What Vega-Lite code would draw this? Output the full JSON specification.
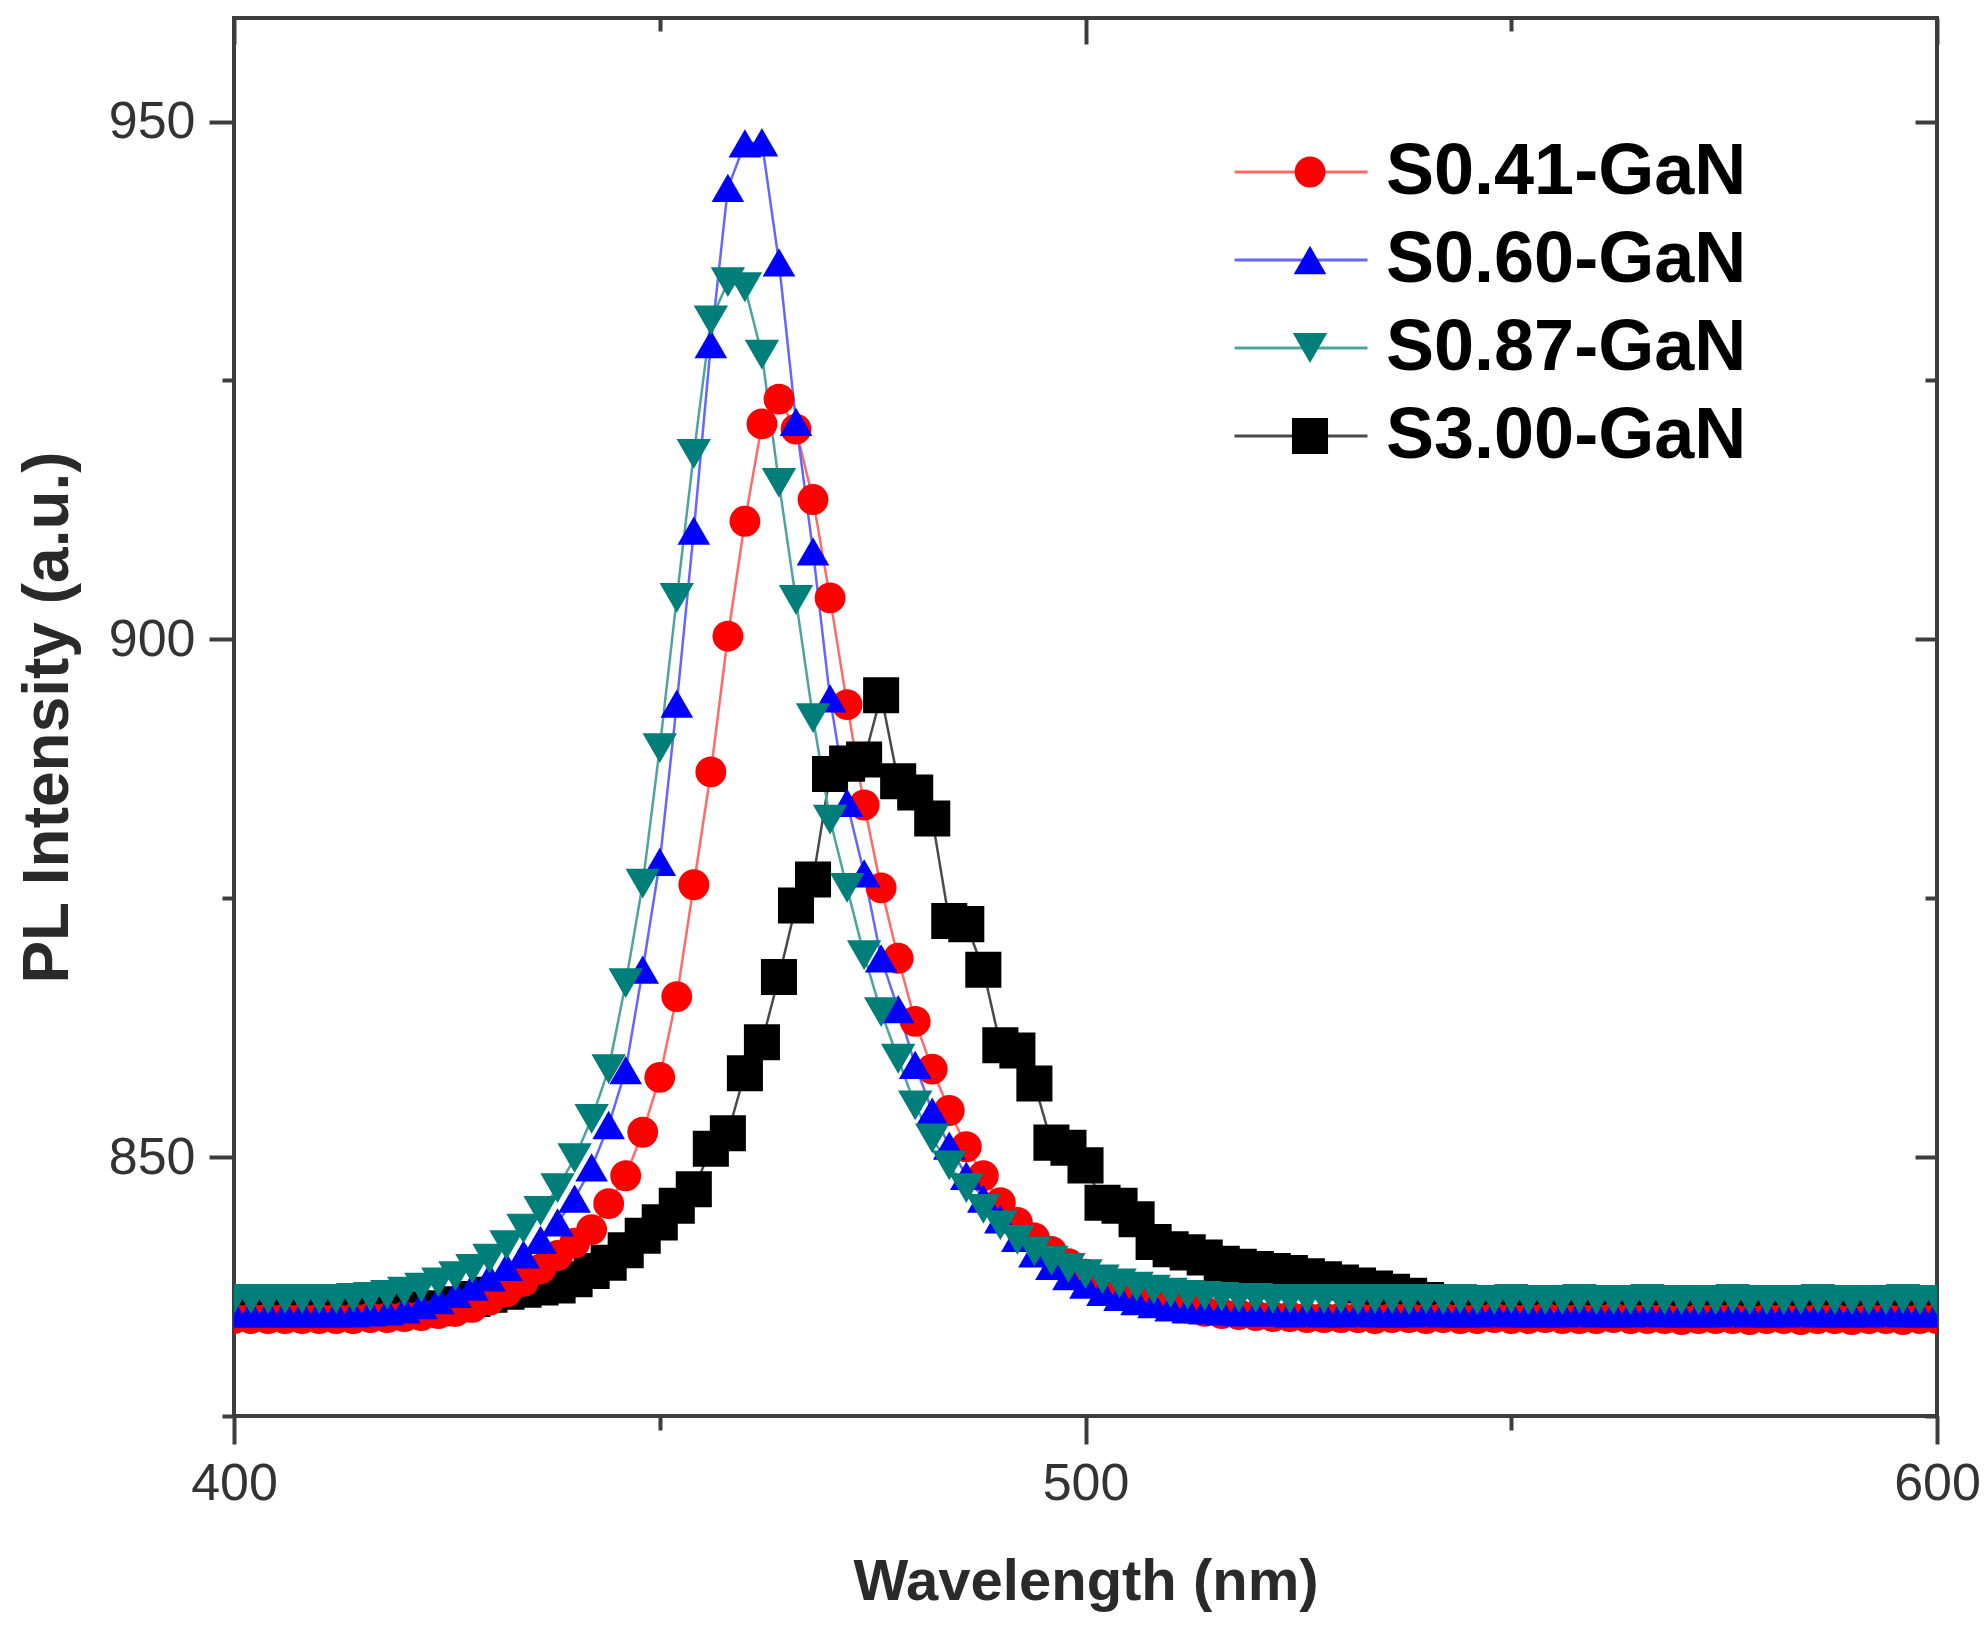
{
  "$schema": "https://vega.github.io/schema/vega-lite/v6.json",
  "width": 1703,
  "height": 1398,
  "autosize": {"type": "none"},
  "padding": {"left": 234, "top": 18, "right": 47, "bottom": 221},
  "background": "white",
  "config": {
    "font": "Liberation Sans",
    "view": {"stroke": "#3d3d3d", "strokeWidth": 4},
    "axis": {
      "grid": false,
      "domain": false,
      "tickColor": "#3d3d3d",
      "tickWidth": 4,
      "labelFont": "Liberation Sans",
      "labelFontSize": 52,
      "labelColor": "#333333",
      "labelOverlap": false,
      "labelFlush": false,
      "titleFont": "Liberation Sans",
      "titleFontWeight": "bold",
      "titleColor": "#2a2a2a"
    }
  },
  "data": {
    "values": [
      {"sample":"S3.00-GaN","nm":400,"pl":835.2},{"sample":"S3.00-GaN","nm":402,"pl":835.2},{"sample":"S3.00-GaN","nm":404,"pl":835.2},{"sample":"S3.00-GaN","nm":406,"pl":835.2},{"sample":"S3.00-GaN","nm":408,"pl":835.2},
      {"sample":"S3.00-GaN","nm":410,"pl":835.2},{"sample":"S3.00-GaN","nm":412,"pl":835.2},{"sample":"S3.00-GaN","nm":414,"pl":835.2},{"sample":"S3.00-GaN","nm":416,"pl":835.2},{"sample":"S3.00-GaN","nm":418,"pl":835.2},
      {"sample":"S3.00-GaN","nm":420,"pl":835.2},{"sample":"S3.00-GaN","nm":422,"pl":835.3},{"sample":"S3.00-GaN","nm":424,"pl":835.4},{"sample":"S3.00-GaN","nm":426,"pl":835.8},{"sample":"S3.00-GaN","nm":428,"pl":836.3},
      {"sample":"S3.00-GaN","nm":430,"pl":836.7},{"sample":"S3.00-GaN","nm":432,"pl":837.0},{"sample":"S3.00-GaN","nm":434,"pl":837.2},{"sample":"S3.00-GaN","nm":436,"pl":837.4},{"sample":"S3.00-GaN","nm":438,"pl":837.6},
      {"sample":"S3.00-GaN","nm":440,"pl":838.2},{"sample":"S3.00-GaN","nm":442,"pl":839.0},{"sample":"S3.00-GaN","nm":444,"pl":839.8},{"sample":"S3.00-GaN","nm":446,"pl":841.0},{"sample":"S3.00-GaN","nm":448,"pl":842.4},
      {"sample":"S3.00-GaN","nm":450,"pl":843.7},{"sample":"S3.00-GaN","nm":452,"pl":845.3},{"sample":"S3.00-GaN","nm":454,"pl":846.9},{"sample":"S3.00-GaN","nm":456,"pl":850.8},{"sample":"S3.00-GaN","nm":458,"pl":852.3},
      {"sample":"S3.00-GaN","nm":460,"pl":858.1},{"sample":"S3.00-GaN","nm":462,"pl":861.1},{"sample":"S3.00-GaN","nm":464,"pl":867.4},{"sample":"S3.00-GaN","nm":466,"pl":874.3},{"sample":"S3.00-GaN","nm":468,"pl":876.8},
      {"sample":"S3.00-GaN","nm":470,"pl":887.0},{"sample":"S3.00-GaN","nm":472,"pl":888.0},{"sample":"S3.00-GaN","nm":474,"pl":888.4},{"sample":"S3.00-GaN","nm":476,"pl":894.6},{"sample":"S3.00-GaN","nm":478,"pl":886.3},
      {"sample":"S3.00-GaN","nm":480,"pl":885.2},{"sample":"S3.00-GaN","nm":482,"pl":882.7},{"sample":"S3.00-GaN","nm":484,"pl":872.8},{"sample":"S3.00-GaN","nm":486,"pl":872.5},{"sample":"S3.00-GaN","nm":488,"pl":868.1},
      {"sample":"S3.00-GaN","nm":490,"pl":860.8},{"sample":"S3.00-GaN","nm":492,"pl":860.3},{"sample":"S3.00-GaN","nm":494,"pl":857.1},{"sample":"S3.00-GaN","nm":496,"pl":851.4},{"sample":"S3.00-GaN","nm":498,"pl":850.9},
      {"sample":"S3.00-GaN","nm":500,"pl":849.2},{"sample":"S3.00-GaN","nm":502,"pl":845.6},{"sample":"S3.00-GaN","nm":504,"pl":845.3},{"sample":"S3.00-GaN","nm":506,"pl":844.0},{"sample":"S3.00-GaN","nm":508,"pl":841.8},
      {"sample":"S3.00-GaN","nm":510,"pl":841.1},{"sample":"S3.00-GaN","nm":512,"pl":840.8},{"sample":"S3.00-GaN","nm":514,"pl":840.3},{"sample":"S3.00-GaN","nm":516,"pl":839.7},{"sample":"S3.00-GaN","nm":518,"pl":839.4},
      {"sample":"S3.00-GaN","nm":520,"pl":839.2},{"sample":"S3.00-GaN","nm":522,"pl":839.0},{"sample":"S3.00-GaN","nm":524,"pl":838.8},{"sample":"S3.00-GaN","nm":526,"pl":838.5},{"sample":"S3.00-GaN","nm":528,"pl":838.2},
      {"sample":"S3.00-GaN","nm":530,"pl":837.9},{"sample":"S3.00-GaN","nm":532,"pl":837.6},{"sample":"S3.00-GaN","nm":534,"pl":837.3},{"sample":"S3.00-GaN","nm":536,"pl":837.0},{"sample":"S3.00-GaN","nm":538,"pl":836.6},
      {"sample":"S3.00-GaN","nm":540,"pl":836.2},{"sample":"S3.00-GaN","nm":542,"pl":835.9},{"sample":"S3.00-GaN","nm":544,"pl":835.6},{"sample":"S3.00-GaN","nm":546,"pl":835.4},{"sample":"S3.00-GaN","nm":548,"pl":835.2},
      {"sample":"S3.00-GaN","nm":550,"pl":835.2},{"sample":"S3.00-GaN","nm":552,"pl":835.2},{"sample":"S3.00-GaN","nm":554,"pl":835.2},{"sample":"S3.00-GaN","nm":556,"pl":835.2},{"sample":"S3.00-GaN","nm":558,"pl":835.2},
      {"sample":"S3.00-GaN","nm":560,"pl":835.2},{"sample":"S3.00-GaN","nm":562,"pl":835.2},{"sample":"S3.00-GaN","nm":564,"pl":835.2},{"sample":"S3.00-GaN","nm":566,"pl":835.2},{"sample":"S3.00-GaN","nm":568,"pl":835.2},
      {"sample":"S3.00-GaN","nm":570,"pl":835.2},{"sample":"S3.00-GaN","nm":572,"pl":835.2},{"sample":"S3.00-GaN","nm":574,"pl":835.2},{"sample":"S3.00-GaN","nm":576,"pl":835.2},{"sample":"S3.00-GaN","nm":578,"pl":835.2},
      {"sample":"S3.00-GaN","nm":580,"pl":835.2},{"sample":"S3.00-GaN","nm":582,"pl":835.2},{"sample":"S3.00-GaN","nm":584,"pl":835.2},{"sample":"S3.00-GaN","nm":586,"pl":835.2},{"sample":"S3.00-GaN","nm":588,"pl":835.2},
      {"sample":"S3.00-GaN","nm":590,"pl":835.2},{"sample":"S3.00-GaN","nm":592,"pl":835.2},{"sample":"S3.00-GaN","nm":594,"pl":835.2},{"sample":"S3.00-GaN","nm":596,"pl":835.2},{"sample":"S3.00-GaN","nm":598,"pl":835.2},
      {"sample":"S3.00-GaN","nm":600,"pl":835.2},

      {"sample":"S0.41-GaN","nm":400,"pl":834.4},{"sample":"S0.41-GaN","nm":402,"pl":834.4},{"sample":"S0.41-GaN","nm":404,"pl":834.4},{"sample":"S0.41-GaN","nm":406,"pl":834.4},{"sample":"S0.41-GaN","nm":408,"pl":834.4},
      {"sample":"S0.41-GaN","nm":410,"pl":834.4},{"sample":"S0.41-GaN","nm":412,"pl":834.4},{"sample":"S0.41-GaN","nm":414,"pl":834.4},{"sample":"S0.41-GaN","nm":416,"pl":834.5},{"sample":"S0.41-GaN","nm":418,"pl":834.5},
      {"sample":"S0.41-GaN","nm":420,"pl":834.6},{"sample":"S0.41-GaN","nm":422,"pl":834.7},{"sample":"S0.41-GaN","nm":424,"pl":834.9},{"sample":"S0.41-GaN","nm":426,"pl":835.1},{"sample":"S0.41-GaN","nm":428,"pl":835.5},
      {"sample":"S0.41-GaN","nm":430,"pl":836.2},{"sample":"S0.41-GaN","nm":432,"pl":837.0},{"sample":"S0.41-GaN","nm":434,"pl":838.0},{"sample":"S0.41-GaN","nm":436,"pl":839.2},{"sample":"S0.41-GaN","nm":438,"pl":840.5},
      {"sample":"S0.41-GaN","nm":440,"pl":841.7},{"sample":"S0.41-GaN","nm":442,"pl":843.0},{"sample":"S0.41-GaN","nm":444,"pl":845.5},{"sample":"S0.41-GaN","nm":446,"pl":848.2},{"sample":"S0.41-GaN","nm":448,"pl":852.4},
      {"sample":"S0.41-GaN","nm":450,"pl":857.7},{"sample":"S0.41-GaN","nm":452,"pl":865.5},{"sample":"S0.41-GaN","nm":454,"pl":876.3},{"sample":"S0.41-GaN","nm":456,"pl":887.2},{"sample":"S0.41-GaN","nm":458,"pl":900.3},
      {"sample":"S0.41-GaN","nm":460,"pl":911.4},{"sample":"S0.41-GaN","nm":462,"pl":920.8},{"sample":"S0.41-GaN","nm":464,"pl":923.2},{"sample":"S0.41-GaN","nm":466,"pl":920.3},{"sample":"S0.41-GaN","nm":468,"pl":913.5},
      {"sample":"S0.41-GaN","nm":470,"pl":904.0},{"sample":"S0.41-GaN","nm":472,"pl":893.7},{"sample":"S0.41-GaN","nm":474,"pl":884.0},{"sample":"S0.41-GaN","nm":476,"pl":876.0},{"sample":"S0.41-GaN","nm":478,"pl":869.2},
      {"sample":"S0.41-GaN","nm":480,"pl":863.1},{"sample":"S0.41-GaN","nm":482,"pl":858.5},{"sample":"S0.41-GaN","nm":484,"pl":854.5},{"sample":"S0.41-GaN","nm":486,"pl":851.0},{"sample":"S0.41-GaN","nm":488,"pl":848.2},
      {"sample":"S0.41-GaN","nm":490,"pl":845.6},{"sample":"S0.41-GaN","nm":492,"pl":843.7},{"sample":"S0.41-GaN","nm":494,"pl":842.2},{"sample":"S0.41-GaN","nm":496,"pl":840.9},{"sample":"S0.41-GaN","nm":498,"pl":839.7},
      {"sample":"S0.41-GaN","nm":500,"pl":838.7},{"sample":"S0.41-GaN","nm":502,"pl":837.9},{"sample":"S0.41-GaN","nm":504,"pl":837.2},{"sample":"S0.41-GaN","nm":506,"pl":836.6},{"sample":"S0.41-GaN","nm":508,"pl":836.1},
      {"sample":"S0.41-GaN","nm":510,"pl":835.7},{"sample":"S0.41-GaN","nm":512,"pl":835.4},{"sample":"S0.41-GaN","nm":514,"pl":835.1},{"sample":"S0.41-GaN","nm":516,"pl":834.9},{"sample":"S0.41-GaN","nm":518,"pl":834.8},
      {"sample":"S0.41-GaN","nm":520,"pl":834.7},{"sample":"S0.41-GaN","nm":522,"pl":834.6},{"sample":"S0.41-GaN","nm":524,"pl":834.6},{"sample":"S0.41-GaN","nm":526,"pl":834.5},{"sample":"S0.41-GaN","nm":528,"pl":834.5},
      {"sample":"S0.41-GaN","nm":530,"pl":834.5},{"sample":"S0.41-GaN","nm":532,"pl":834.5},{"sample":"S0.41-GaN","nm":534,"pl":834.4},{"sample":"S0.41-GaN","nm":536,"pl":834.5},{"sample":"S0.41-GaN","nm":538,"pl":834.5},
      {"sample":"S0.41-GaN","nm":540,"pl":834.4},{"sample":"S0.41-GaN","nm":542,"pl":834.5},{"sample":"S0.41-GaN","nm":544,"pl":834.4},{"sample":"S0.41-GaN","nm":546,"pl":834.4},{"sample":"S0.41-GaN","nm":548,"pl":834.5},
      {"sample":"S0.41-GaN","nm":550,"pl":834.4},{"sample":"S0.41-GaN","nm":552,"pl":834.4},{"sample":"S0.41-GaN","nm":554,"pl":834.5},{"sample":"S0.41-GaN","nm":556,"pl":834.4},{"sample":"S0.41-GaN","nm":558,"pl":834.4},
      {"sample":"S0.41-GaN","nm":560,"pl":834.4},{"sample":"S0.41-GaN","nm":562,"pl":834.5},{"sample":"S0.41-GaN","nm":564,"pl":834.4},{"sample":"S0.41-GaN","nm":566,"pl":834.4},{"sample":"S0.41-GaN","nm":568,"pl":834.4},
      {"sample":"S0.41-GaN","nm":570,"pl":834.3},{"sample":"S0.41-GaN","nm":572,"pl":834.4},{"sample":"S0.41-GaN","nm":574,"pl":834.4},{"sample":"S0.41-GaN","nm":576,"pl":834.4},{"sample":"S0.41-GaN","nm":578,"pl":834.3},
      {"sample":"S0.41-GaN","nm":580,"pl":834.4},{"sample":"S0.41-GaN","nm":582,"pl":834.4},{"sample":"S0.41-GaN","nm":584,"pl":834.3},{"sample":"S0.41-GaN","nm":586,"pl":834.4},{"sample":"S0.41-GaN","nm":588,"pl":834.4},
      {"sample":"S0.41-GaN","nm":590,"pl":834.3},{"sample":"S0.41-GaN","nm":592,"pl":834.4},{"sample":"S0.41-GaN","nm":594,"pl":834.4},{"sample":"S0.41-GaN","nm":596,"pl":834.3},{"sample":"S0.41-GaN","nm":598,"pl":834.4},
      {"sample":"S0.41-GaN","nm":600,"pl":834.4},

      {"sample":"S0.60-GaN","nm":400,"pl":834.9},{"sample":"S0.60-GaN","nm":402,"pl":834.9},{"sample":"S0.60-GaN","nm":404,"pl":834.9},{"sample":"S0.60-GaN","nm":406,"pl":834.9},{"sample":"S0.60-GaN","nm":408,"pl":834.9},
      {"sample":"S0.60-GaN","nm":410,"pl":834.9},{"sample":"S0.60-GaN","nm":412,"pl":834.9},{"sample":"S0.60-GaN","nm":414,"pl":834.9},{"sample":"S0.60-GaN","nm":416,"pl":835.0},{"sample":"S0.60-GaN","nm":418,"pl":835.1},
      {"sample":"S0.60-GaN","nm":420,"pl":835.3},{"sample":"S0.60-GaN","nm":422,"pl":835.7},{"sample":"S0.60-GaN","nm":424,"pl":836.2},{"sample":"S0.60-GaN","nm":426,"pl":836.8},{"sample":"S0.60-GaN","nm":428,"pl":837.5},
      {"sample":"S0.60-GaN","nm":430,"pl":838.4},{"sample":"S0.60-GaN","nm":432,"pl":839.4},{"sample":"S0.60-GaN","nm":434,"pl":840.6},{"sample":"S0.60-GaN","nm":436,"pl":842.0},{"sample":"S0.60-GaN","nm":438,"pl":843.7},
      {"sample":"S0.60-GaN","nm":440,"pl":846.0},{"sample":"S0.60-GaN","nm":442,"pl":849.0},{"sample":"S0.60-GaN","nm":444,"pl":853.1},{"sample":"S0.60-GaN","nm":446,"pl":858.4},{"sample":"S0.60-GaN","nm":448,"pl":868.1},
      {"sample":"S0.60-GaN","nm":450,"pl":878.5},{"sample":"S0.60-GaN","nm":452,"pl":893.8},{"sample":"S0.60-GaN","nm":454,"pl":910.5},{"sample":"S0.60-GaN","nm":456,"pl":928.5},{"sample":"S0.60-GaN","nm":458,"pl":943.6},
      {"sample":"S0.60-GaN","nm":460,"pl":947.9},{"sample":"S0.60-GaN","nm":462,"pl":948.0},{"sample":"S0.60-GaN","nm":464,"pl":936.4},{"sample":"S0.60-GaN","nm":466,"pl":921.0},{"sample":"S0.60-GaN","nm":468,"pl":908.5},
      {"sample":"S0.60-GaN","nm":470,"pl":894.3},{"sample":"S0.60-GaN","nm":472,"pl":884.2},{"sample":"S0.60-GaN","nm":474,"pl":877.4},{"sample":"S0.60-GaN","nm":476,"pl":869.2},{"sample":"S0.60-GaN","nm":478,"pl":864.3},
      {"sample":"S0.60-GaN","nm":480,"pl":858.9},{"sample":"S0.60-GaN","nm":482,"pl":854.4},{"sample":"S0.60-GaN","nm":484,"pl":851.1},{"sample":"S0.60-GaN","nm":486,"pl":848.2},{"sample":"S0.60-GaN","nm":488,"pl":846.0},
      {"sample":"S0.60-GaN","nm":490,"pl":844.0},{"sample":"S0.60-GaN","nm":492,"pl":842.2},{"sample":"S0.60-GaN","nm":494,"pl":840.7},{"sample":"S0.60-GaN","nm":496,"pl":839.5},{"sample":"S0.60-GaN","nm":498,"pl":838.5},
      {"sample":"S0.60-GaN","nm":500,"pl":837.7},{"sample":"S0.60-GaN","nm":502,"pl":837.0},{"sample":"S0.60-GaN","nm":504,"pl":836.5},{"sample":"S0.60-GaN","nm":506,"pl":836.1},{"sample":"S0.60-GaN","nm":508,"pl":835.8},
      {"sample":"S0.60-GaN","nm":510,"pl":835.5},{"sample":"S0.60-GaN","nm":512,"pl":835.3},{"sample":"S0.60-GaN","nm":514,"pl":835.2},{"sample":"S0.60-GaN","nm":516,"pl":835.1},{"sample":"S0.60-GaN","nm":518,"pl":835.0},
      {"sample":"S0.60-GaN","nm":520,"pl":835.0},{"sample":"S0.60-GaN","nm":522,"pl":835.0},{"sample":"S0.60-GaN","nm":524,"pl":834.9},{"sample":"S0.60-GaN","nm":526,"pl":835.0},{"sample":"S0.60-GaN","nm":528,"pl":834.9},
      {"sample":"S0.60-GaN","nm":530,"pl":834.9},{"sample":"S0.60-GaN","nm":532,"pl":835.0},{"sample":"S0.60-GaN","nm":534,"pl":834.9},{"sample":"S0.60-GaN","nm":536,"pl":834.9},{"sample":"S0.60-GaN","nm":538,"pl":834.9},
      {"sample":"S0.60-GaN","nm":540,"pl":835.0},{"sample":"S0.60-GaN","nm":542,"pl":834.9},{"sample":"S0.60-GaN","nm":544,"pl":834.9},{"sample":"S0.60-GaN","nm":546,"pl":834.9},{"sample":"S0.60-GaN","nm":548,"pl":835.0},
      {"sample":"S0.60-GaN","nm":550,"pl":834.9},{"sample":"S0.60-GaN","nm":552,"pl":834.9},{"sample":"S0.60-GaN","nm":554,"pl":834.9},{"sample":"S0.60-GaN","nm":556,"pl":834.9},{"sample":"S0.60-GaN","nm":558,"pl":835.0},
      {"sample":"S0.60-GaN","nm":560,"pl":834.9},{"sample":"S0.60-GaN","nm":562,"pl":834.9},{"sample":"S0.60-GaN","nm":564,"pl":834.9},{"sample":"S0.60-GaN","nm":566,"pl":835.0},{"sample":"S0.60-GaN","nm":568,"pl":834.9},
      {"sample":"S0.60-GaN","nm":570,"pl":834.9},{"sample":"S0.60-GaN","nm":572,"pl":834.9},{"sample":"S0.60-GaN","nm":574,"pl":834.9},{"sample":"S0.60-GaN","nm":576,"pl":835.0},{"sample":"S0.60-GaN","nm":578,"pl":834.9},
      {"sample":"S0.60-GaN","nm":580,"pl":834.9},{"sample":"S0.60-GaN","nm":582,"pl":834.9},{"sample":"S0.60-GaN","nm":584,"pl":835.0},{"sample":"S0.60-GaN","nm":586,"pl":834.9},{"sample":"S0.60-GaN","nm":588,"pl":834.9},
      {"sample":"S0.60-GaN","nm":590,"pl":834.9},{"sample":"S0.60-GaN","nm":592,"pl":834.9},{"sample":"S0.60-GaN","nm":594,"pl":835.0},{"sample":"S0.60-GaN","nm":596,"pl":834.9},{"sample":"S0.60-GaN","nm":598,"pl":834.9},
      {"sample":"S0.60-GaN","nm":600,"pl":834.9},

      {"sample":"S0.87-GaN","nm":400,"pl":836.3},{"sample":"S0.87-GaN","nm":402,"pl":836.3},{"sample":"S0.87-GaN","nm":404,"pl":836.3},{"sample":"S0.87-GaN","nm":406,"pl":836.3},{"sample":"S0.87-GaN","nm":408,"pl":836.3},
      {"sample":"S0.87-GaN","nm":410,"pl":836.3},{"sample":"S0.87-GaN","nm":412,"pl":836.3},{"sample":"S0.87-GaN","nm":414,"pl":836.4},{"sample":"S0.87-GaN","nm":416,"pl":836.5},{"sample":"S0.87-GaN","nm":418,"pl":836.7},
      {"sample":"S0.87-GaN","nm":420,"pl":837.0},{"sample":"S0.87-GaN","nm":422,"pl":837.4},{"sample":"S0.87-GaN","nm":424,"pl":837.9},{"sample":"S0.87-GaN","nm":426,"pl":838.5},{"sample":"S0.87-GaN","nm":428,"pl":839.2},
      {"sample":"S0.87-GaN","nm":430,"pl":840.2},{"sample":"S0.87-GaN","nm":432,"pl":841.5},{"sample":"S0.87-GaN","nm":434,"pl":843.1},{"sample":"S0.87-GaN","nm":436,"pl":844.8},{"sample":"S0.87-GaN","nm":438,"pl":847.0},
      {"sample":"S0.87-GaN","nm":440,"pl":849.9},{"sample":"S0.87-GaN","nm":442,"pl":853.7},{"sample":"S0.87-GaN","nm":444,"pl":858.5},{"sample":"S0.87-GaN","nm":446,"pl":866.8},{"sample":"S0.87-GaN","nm":448,"pl":876.4},
      {"sample":"S0.87-GaN","nm":450,"pl":889.5},{"sample":"S0.87-GaN","nm":452,"pl":904.0},{"sample":"S0.87-GaN","nm":454,"pl":917.9},{"sample":"S0.87-GaN","nm":456,"pl":930.8},{"sample":"S0.87-GaN","nm":458,"pl":934.5},
      {"sample":"S0.87-GaN","nm":460,"pl":934.0},{"sample":"S0.87-GaN","nm":462,"pl":927.5},{"sample":"S0.87-GaN","nm":464,"pl":915.1},{"sample":"S0.87-GaN","nm":466,"pl":903.8},{"sample":"S0.87-GaN","nm":468,"pl":892.4},
      {"sample":"S0.87-GaN","nm":470,"pl":882.6},{"sample":"S0.87-GaN","nm":472,"pl":876.0},{"sample":"S0.87-GaN","nm":474,"pl":869.5},{"sample":"S0.87-GaN","nm":476,"pl":864.0},{"sample":"S0.87-GaN","nm":478,"pl":859.5},
      {"sample":"S0.87-GaN","nm":480,"pl":855.0},{"sample":"S0.87-GaN","nm":482,"pl":851.8},{"sample":"S0.87-GaN","nm":484,"pl":849.2},{"sample":"S0.87-GaN","nm":486,"pl":847.0},{"sample":"S0.87-GaN","nm":488,"pl":845.0},
      {"sample":"S0.87-GaN","nm":490,"pl":843.4},{"sample":"S0.87-GaN","nm":492,"pl":842.0},{"sample":"S0.87-GaN","nm":494,"pl":840.9},{"sample":"S0.87-GaN","nm":496,"pl":840.0},{"sample":"S0.87-GaN","nm":498,"pl":839.3},
      {"sample":"S0.87-GaN","nm":500,"pl":838.7},{"sample":"S0.87-GaN","nm":502,"pl":838.2},{"sample":"S0.87-GaN","nm":504,"pl":837.8},{"sample":"S0.87-GaN","nm":506,"pl":837.5},{"sample":"S0.87-GaN","nm":508,"pl":837.2},
      {"sample":"S0.87-GaN","nm":510,"pl":836.9},{"sample":"S0.87-GaN","nm":512,"pl":836.7},{"sample":"S0.87-GaN","nm":514,"pl":836.6},{"sample":"S0.87-GaN","nm":516,"pl":836.5},{"sample":"S0.87-GaN","nm":518,"pl":836.4},
      {"sample":"S0.87-GaN","nm":520,"pl":836.4},{"sample":"S0.87-GaN","nm":522,"pl":836.3},{"sample":"S0.87-GaN","nm":524,"pl":836.3},{"sample":"S0.87-GaN","nm":526,"pl":836.3},{"sample":"S0.87-GaN","nm":528,"pl":836.3},
      {"sample":"S0.87-GaN","nm":530,"pl":836.3},{"sample":"S0.87-GaN","nm":532,"pl":836.2},{"sample":"S0.87-GaN","nm":534,"pl":836.3},{"sample":"S0.87-GaN","nm":536,"pl":836.3},{"sample":"S0.87-GaN","nm":538,"pl":836.2},
      {"sample":"S0.87-GaN","nm":540,"pl":836.3},{"sample":"S0.87-GaN","nm":542,"pl":836.2},{"sample":"S0.87-GaN","nm":544,"pl":836.3},{"sample":"S0.87-GaN","nm":546,"pl":836.2},{"sample":"S0.87-GaN","nm":548,"pl":836.2},
      {"sample":"S0.87-GaN","nm":550,"pl":836.3},{"sample":"S0.87-GaN","nm":552,"pl":836.2},{"sample":"S0.87-GaN","nm":554,"pl":836.2},{"sample":"S0.87-GaN","nm":556,"pl":836.2},{"sample":"S0.87-GaN","nm":558,"pl":836.3},
      {"sample":"S0.87-GaN","nm":560,"pl":836.2},{"sample":"S0.87-GaN","nm":562,"pl":836.2},{"sample":"S0.87-GaN","nm":564,"pl":836.2},{"sample":"S0.87-GaN","nm":566,"pl":836.3},{"sample":"S0.87-GaN","nm":568,"pl":836.2},
      {"sample":"S0.87-GaN","nm":570,"pl":836.2},{"sample":"S0.87-GaN","nm":572,"pl":836.2},{"sample":"S0.87-GaN","nm":574,"pl":836.2},{"sample":"S0.87-GaN","nm":576,"pl":836.3},{"sample":"S0.87-GaN","nm":578,"pl":836.2},
      {"sample":"S0.87-GaN","nm":580,"pl":836.2},{"sample":"S0.87-GaN","nm":582,"pl":836.2},{"sample":"S0.87-GaN","nm":584,"pl":836.2},{"sample":"S0.87-GaN","nm":586,"pl":836.3},{"sample":"S0.87-GaN","nm":588,"pl":836.2},
      {"sample":"S0.87-GaN","nm":590,"pl":836.2},{"sample":"S0.87-GaN","nm":592,"pl":836.2},{"sample":"S0.87-GaN","nm":594,"pl":836.2},{"sample":"S0.87-GaN","nm":596,"pl":836.3},{"sample":"S0.87-GaN","nm":598,"pl":836.2},
      {"sample":"S0.87-GaN","nm":600,"pl":836.2}
    ]
  },
  "layer": [
    {
      "mark": {"type": "line", "strokeWidth": 2.5, "clip": true},
      "encoding": {
        "x": {
          "field": "nm",
          "type": "quantitative",
          "scale": {"domain": [400, 600], "nice": false, "zero": false},
          "axis": {
            "orient": "bottom",
            "values": [400, 450, 500, 550, 600],
            "labelExpr": "datum.value % 100 === 0 ? datum.label : ''",
            "tickSize": {"condition": {"test": "datum.value % 100 === 0", "value": 28}, "value": 14},
            "labelPadding": 14,
            "title": "Wavelength (nm)",
            "titleFontSize": 58,
            "titlePadding": 44
          }
        },
        "y": {
          "field": "pl",
          "type": "quantitative",
          "scale": {"domain": [825, 960], "nice": false, "zero": false},
          "axis": {
            "orient": "left",
            "values": [825, 850, 875, 900, 925, 950],
            "labelExpr": "datum.value % 50 === 0 ? datum.label : ''",
            "tickSize": {"condition": {"test": "datum.value % 50 === 0", "value": 25}, "value": 12},
            "labelPadding": 14,
            "title": "PL Intensity (a.u.)",
            "titleFontSize": 64,
            "titlePadding": 28
          }
        },
        "stroke": {
          "field": "sample",
          "type": "nominal",
          "scale": {
            "domain": ["S0.41-GaN", "S0.60-GaN", "S0.87-GaN", "S3.00-GaN"],
            "range": ["#ff6a6a", "#6666ff", "#4fa39d", "#4a4a4a"]
          },
          "legend": {
            "orient": "none",
            "legendX": 999,
            "legendY": 117,
            "title": null,
            "padding": 0,
            "symbolType": "stroke",
            "symbolSize": 17689,
            "symbolStrokeWidth": 3,
            "clipHeight": 74,
            "rowPadding": 14,
            "labelFontSize": 72,
            "labelExpr": "''",
            "labelOpacity": 0
          }
        }
      }
    },
    {
      "mark": {"type": "point", "filled": true, "opacity": 1, "strokeWidth": 0, "clip": true},
      "encoding": {
        "x": {
          "field": "nm",
          "type": "quantitative",
          "scale": {"domain": [400, 600], "nice": false, "zero": false},
          "axis": {
            "orient": "top",
            "values": [400, 450, 500, 550, 600],
            "labels": false,
            "tickSize": {"condition": {"test": "datum.value % 100 === 0", "value": -26}, "value": -13},
            "title": null
          }
        },
        "y": {
          "field": "pl",
          "type": "quantitative",
          "scale": {"domain": [825, 960], "nice": false, "zero": false},
          "axis": {
            "orient": "right",
            "values": [825, 850, 875, 900, 925, 950],
            "labels": false,
            "tickSize": {"condition": {"test": "datum.value % 50 === 0", "value": -22}, "value": -12},
            "title": null
          }
        },
        "color": {
          "field": "sample",
          "type": "nominal",
          "scale": {"range": ["#ff0000", "#0000ff", "#007f7a", "#000000"]},
          "legend": {
            "orient": "none",
            "legendX": 1040,
            "legendY": 117,
            "title": null,
            "padding": 0,
            "symbolSize": 1500,
            "symbolStrokeWidth": 0,
            "clipHeight": 74,
            "rowPadding": 14,
            "labelFontSize": 72,
            "labelFontWeight": "bold",
            "labelColor": "#000000",
            "labelOffset": 40,
            "labelLimit": 700
          }
        },
        "shape": {
          "field": "sample",
          "type": "nominal",
          "scale": {"range": ["circle", "triangle-up", "triangle-down", "square"]},
          "legend": {
            "orient": "none",
            "legendX": 1040,
            "legendY": 117,
            "title": null,
            "padding": 0,
            "symbolSize": 1500,
            "symbolStrokeWidth": 0,
            "clipHeight": 74,
            "rowPadding": 14,
            "labelFontSize": 72,
            "labelFontWeight": "bold",
            "labelColor": "#000000",
            "labelOffset": 40,
            "labelLimit": 700
          }
        },
        "size": {
          "field": "sample",
          "type": "ordinal",
          "scale": {"range": [950, 1300, 1300, 680]},
          "legend": null
        }
      }
    }
  ],
  "resolve": {"axis": {"x": "independent", "y": "independent"}}
}
